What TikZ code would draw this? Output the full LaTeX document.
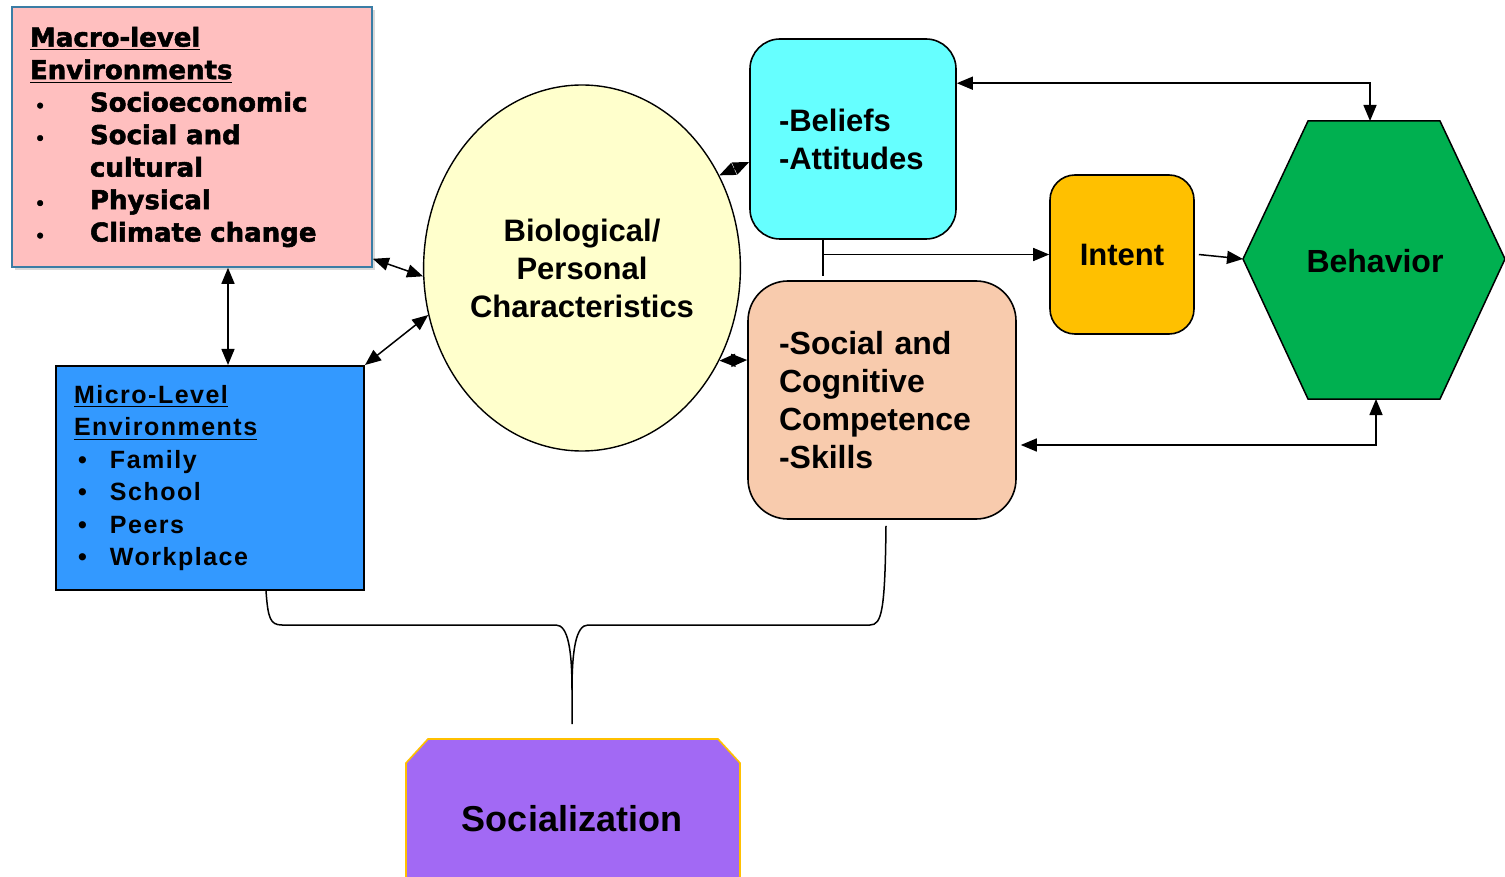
\documentclass[tikz,border=0pt]{standalone}
\usepackage{fontspec}
\setmainfont{Liberation Sans}
\newfontfamily\heavyfont{DejaVu Sans}[BoldFeatures={FakeBold=2}]
\newfontfamily\spacedfont{Liberation Sans}[LetterSpace=6]
\usetikzlibrary{arrows.meta,shapes.geometric,shadows}
\definecolor{macrocol}{HTML}{FFBFBF}
\definecolor{macroline}{HTML}{3A7DA5}
\definecolor{microcol}{HTML}{3399FF}
\definecolor{biocol}{HTML}{FFFFCC}
\definecolor{beliefcol}{HTML}{66FFFF}
\definecolor{skillcol}{HTML}{F8CBAD}
\definecolor{intentcol}{HTML}{FFC000}
\definecolor{behavcol}{HTML}{00B050}
\definecolor{sozcol}{HTML}{A269F4}
\newcommand{\mbul}{{\fontsize{8}{8}\selectfont •}}
\tikzset{
  dbl/.style={{Triangle[length=8pt,width=6.5pt]}-{Triangle[length=8pt,width=6.5pt]}, line width=0.75pt},
  one/.style={-{Triangle[length=8pt,width=6.5pt]}, line width=0.75pt},
  roundbox/.style={draw, line width=0.8pt, rounded corners=#1, align=left, inner sep=0pt},
  bigtxt/.style={font=\fontsize{15.5}{19}\selectfont\bfseries}
}
\begin{document}
\begin{tikzpicture}[x=0.5pt,y=-0.5pt]
  \useasboundingbox (0,0) rectangle (1505,877);
  \node[draw=macroline, fill=macrocol, line width=0.8pt, minimum width=180pt, minimum height=130pt,
        text width=162pt, align=left, inner sep=0pt,
        drop shadow={shadow xshift=1.5pt, shadow yshift=-1.5pt, opacity=0.3, fill=gray},
        font=\heavyfont\bfseries\fontsize{13}{16.25}\selectfont] (macro) at (192,137)
    {\underline{Macro-level}\\
     \underline{Environments}\\
     \hspace*{2.5pt}\makebox[27.5pt][l]{\mbul}Socioeconomic\\
     \hspace*{2.5pt}\makebox[27.5pt][l]{\mbul}Social and\\
     \hspace*{30pt}cultural\\
     \hspace*{2.5pt}\makebox[27.5pt][l]{\mbul}Physical\\
     \hspace*{2.5pt}\makebox[27.5pt][l]{\mbul}Climate change};
  \node[draw, fill=microcol, line width=1pt, minimum width=154pt, minimum height=112pt,
        text width=136pt, align=left, inner sep=0pt,
        font=\spacedfont\bfseries\fontsize{12.5}{16.2}\selectfont] (micro) at (210,478)
    {\underline{Micro-Level}\\
     \underline{Environments}\\
     \hspace*{2pt}\makebox[16pt][l]{•}Family\\
     \hspace*{2pt}\makebox[16pt][l]{•}School\\
     \hspace*{2pt}\makebox[16pt][l]{•}Peers\\
     \hspace*{2pt}\makebox[16pt][l]{•}Workplace};
  \node[ellipse, draw, fill=biocol, line width=0.7pt, minimum width=156pt, minimum height=183pt,
        align=center, inner sep=0pt, bigtxt] (bio) at (582,268)
    {Biological/\\Personal\\Characteristics};
  \node[roundbox=15pt, fill=beliefcol, minimum width=103pt, minimum height=100pt,
        text width=74pt, bigtxt] (beliefs) at (853,139) {-Beliefs\\-Attitudes};
  \node[roundbox=20pt, fill=skillcol, minimum width=134pt, minimum height=119pt,
        text width=103pt, bigtxt, font=\fontsize{16}{19}\selectfont\bfseries] (skills) at (882,400)
    {-Social and\\Cognitive\\Competence\\-Skills};
  \node[roundbox=12.5pt, fill=intentcol, minimum width=72pt, minimum height=79.5pt,
        align=center, bigtxt] (intent) at (1122,254.5) {Intent};
  \coordinate (hexW) at (1243,259);
  \coordinate (hexN) at (1370,121);
  \coordinate (hexS) at (1376,399);
  \draw[fill=behavcol, line width=0.75pt] (hexW) -- (1308,121) -- (1440,121) -- (1505,259)
    -- (1440,399) -- (1308,399) -- cycle;
  \node[font=\fontsize{16}{19}\selectfont\bfseries] (behavior) at (1375,261) {Behavior};
  \draw[fill=sozcol, draw=intentcol, line width=0.8pt] (406,900) -- (406,763) -- (428,739)
    -- (718,739) -- (740,763) -- (740,900);
  \node[font=\fontsize{18}{22}\selectfont\bfseries] (socz) at (572,819) {Socialization};
  \coordinate (mm) at ([xshift=18pt]macro.south);
  \draw[dbl] (mm) -- (mm |- micro.north);
  \draw[dbl] ([yshift=4.5pt]macro.south east) -- (bio.183);
  \draw[dbl] (micro.north east) -- (bio.197);
  \draw[dbl] (bio.34) -- ([yshift=-11.5pt]beliefs.west);
  \draw[dbl] (bio.-34) -- ([yshift=20pt]skills.west);
  \coordinate (split) at ([xshift=-15pt]beliefs.south);
  \draw[line width=0.75pt] (split) -- ([yshift=2pt]split |- skills.north);
  \draw[one] (split |- intent.west) -- (intent.west);
  \draw[one] ([xshift=2pt]intent.east) -- (hexW);
  \draw[dbl] ([yshift=-22.5pt]beliefs.north east) -| (hexN);
  \draw[dbl] (hexS) |- ([xshift=2pt,yshift=-22.5pt]skills.east);
  \coordinate (brL) at ([xshift=28pt]micro.south);
  \coordinate (brR) at ([xshift=2pt,yshift=-3pt]skills.south);
  \coordinate (brT) at (572,724);
  \draw[line width=0.75pt] (brL) .. controls (268,618) and (270,625) .. (282,625) -- (556,625)
    .. controls (568,625) and (572,650) .. (572,690) -- (brT);
  \draw[line width=0.75pt] (brR) .. controls (885,610) and (882,625) .. (870,625) -- (588,625)
    .. controls (576,625) and (572,650) .. (572,690);
\end{tikzpicture}
\end{document}
